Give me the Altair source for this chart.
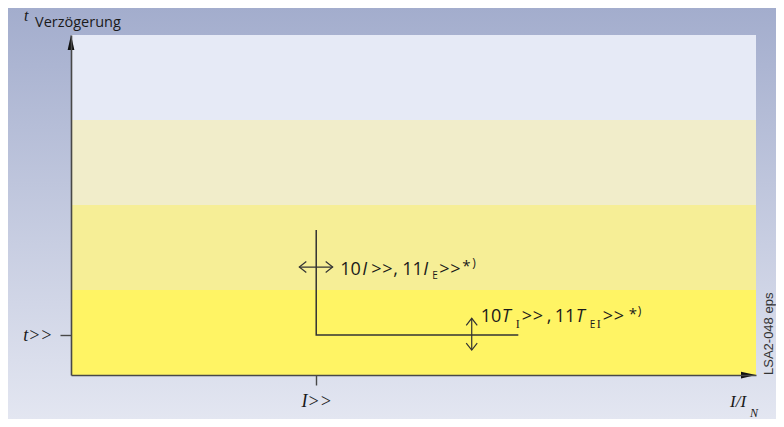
import altair as alt
import pandas as pd

# ---------------- data ----------------
X_MAX = 100
Y_MAX = 4

BAND_LOWER = [0, 1, 2, 3]
BAND_UPPER = [1, 2, 3, 4]
BAND_COLORS = ["#fff464", "#f6ee96", "#f1edca", "#e6eaf6"]

STEP_X = [35.8, 35.8, 65.3]
STEP_Y = [1.706, 0.47, 0.47]

X_TICKS = [35.8]
X_TICK_LABELS = ["I>>"]
Y_TICKS = [0.47]
Y_TICK_LABELS = ["t>>"]

# double arrows: (x1, x2, y1, y2)
ARROW_X1 = [33.33, 58.5]
ARROW_X2 = [38.2, 58.5]
ARROW_Y1 = [1.27, 0.294]
ARROW_Y2 = [1.27, 0.667]

# annotation anchors (data coords)
ANN1_ANCHOR = (35.8, 1.27)
ANN2_ANCHOR = (58.5, 0.47)

SANS = "Open Sans"
SANS2 = "Liberation Sans"
SERIF = "Liberation Serif"
MAIN = 18

# text pieces: (text, dx, dy, size, font, style)
ANN1_PIECES = [
    ("10", 24, 8, MAIN, SANS, "normal"),
    ("I", 46, 8, MAIN, SANS, "italic"),
    (">", 55, 8, MAIN, SANS, "normal"),
    (">", 66, 8, MAIN, SANS, "normal"),
    (",", 77, 8, MAIN, SANS, "normal"),
    ("11", 86, 8, MAIN, SANS, "normal"),
    ("I", 107, 8, MAIN, SANS, "italic"),
    ("E", 116, 12, 10, SANS, "normal"),
    (">", 123, 8, MAIN, SANS, "normal"),
    (">", 134, 8, MAIN, SANS, "normal"),
    ("*", 146, 4, 15, SANS, "normal"),
    (")", 156, 0, 12, SANS, "normal"),
]
ANN2_PIECES = [
    ("10", 9, -13, MAIN, SANS, "normal"),
    ("T", 30, -13, MAIN, SANS, "italic"),
    ("I", 44, -7, 12, SERIF, "normal"),
    (">", 50, -13, MAIN, SANS, "normal"),
    (">", 61, -13, MAIN, SANS, "normal"),
    (",", 75, -13, MAIN, SANS, "normal"),
    ("11", 83, -13, MAIN, SANS, "normal"),
    ("T", 104, -13, MAIN, SANS, "italic"),
    ("E", 118, -7, 10, SANS, "normal"),
    ("I", 125, -7, 12, SERIF, "normal"),
    (">", 131, -13, MAIN, SANS, "normal"),
    (">", 142, -13, MAIN, SANS, "normal"),
    ("*", 157, -16, 15, SANS, "normal"),
    (")", 166, -20, 12, SANS, "normal"),
]

# axis titles, anchored at axis ends
YTITLE_ANCHOR = (0, Y_MAX)
YTITLE_PIECES = [
    ("t", -47, -14, 16, SERIF, "italic"),
    ("Verzögerung", -36, -8, 14.5, SANS, "normal"),
]
XTITLE_ANCHOR = (X_MAX, 0)
XTITLE_PIECES = [
    ("I/I", -26, 32, 17, SERIF, "italic"),
    ("N", -6, 42, 12, SERIF, "italic"),
]
SIDE_NOTE = "LSA2-048 eps"

# ---------------- layout ----------------
W, H = 685, 340
PAD = {"left": 63, "top": 27, "right": 20, "bottom": 44}
INK = "#1a1a1a"
AXIS_INK = "#484848"

xs = alt.Scale(domain=[0, X_MAX], nice=False, zero=False)
ys = alt.Scale(domain=[0, Y_MAX], nice=False, zero=False)


def label_expr(ticks, labels):
    expr = "''"
    for t, l in zip(ticks, labels):
        expr = f"abs(datum.value - {t}) < 1e-6 ? '{l}' : ({expr})"
    return expr


AXIS_COMMON = dict(
    domainColor=AXIS_INK, domainWidth=1.6, tickColor=AXIS_INK, tickWidth=1.4,
    labelFont=SERIF, labelFontStyle="italic", labelFontSize=18, labelColor=INK,
    grid=False, title=None, zindex=1,
)
x_axis = alt.Axis(values=X_TICKS, labelExpr=label_expr(X_TICKS, X_TICK_LABELS),
                  tickSize=10, labelPadding=7, **AXIS_COMMON)
y_axis = alt.Axis(values=Y_TICKS, labelExpr=label_expr(Y_TICKS, Y_TICK_LABELS),
                  tickSize=11, labelPadding=8, **AXIS_COMMON)


def X(f):
    return alt.X(f"{f}:Q", scale=xs, axis=x_axis)


def Y(f):
    return alt.Y(f"{f}:Q", scale=ys, axis=y_axis)


# background gradient (whole chart)
bg = alt.Chart(pd.DataFrame({"k": [0]})).mark_rect(
    color=alt.Gradient(
        gradient="linear",
        stops=[alt.GradientStop(color="#a3adcd", offset=0),
               alt.GradientStop(color="#e3e6f1", offset=1)],
        x1=0, x2=0, y1=0, y2=1,
    )
).encode(
    x=alt.value(-PAD["left"]), x2=alt.value(W + PAD["right"]),
    y=alt.value(-PAD["top"]), y2=alt.value(H + PAD["bottom"]),
)

bands_df = pd.DataFrame({
    "x0": [0] * len(BAND_LOWER), "x1": [X_MAX] * len(BAND_LOWER),
    "y0": BAND_LOWER, "y1": BAND_UPPER, "c": BAND_COLORS,
})
bands = alt.Chart(bands_df).mark_rect().encode(
    x=X("x0"), x2="x1", y=Y("y0"), y2="y1",
    color=alt.Color("c:N", scale=None),
)

step_df = pd.DataFrame({"x": STEP_X, "y": STEP_Y, "i": list(range(len(STEP_X)))})
step = alt.Chart(step_df).mark_line(color="#333333", strokeWidth=1.5).encode(
    x=X("x"), y=Y("y"), order="i:Q"
)

arrows_df = pd.DataFrame({"x1": ARROW_X1, "x2": ARROW_X2, "y1": ARROW_Y1, "y2": ARROW_Y2})
shafts = alt.Chart(arrows_df).mark_rule(color="#333333", strokeWidth=1.2).encode(
    x=X("x1"), x2="x2", y=Y("y1"), y2="y2"
)

CHEV_LEFT = "M1.27,-1L0,0L1.27,1"
CHEV_RIGHT = "M-1.27,-1L0,0L-1.27,1"
CHEV_UP = "M-1,1.27L0,0L1,1.27"
CHEV_DOWN = "M-1,-1.27L0,0L1,-1.27"
chev_rows = []
for x1, x2, y1, y2 in zip(ARROW_X1, ARROW_X2, ARROW_Y1, ARROW_Y2):
    if y1 == y2:
        chev_rows.append({"x": x1, "y": y1, "s": CHEV_LEFT})
        chev_rows.append({"x": x2, "y": y2, "s": CHEV_RIGHT})
    else:
        chev_rows.append({"x": x1, "y": y1, "s": CHEV_DOWN})
        chev_rows.append({"x": x2, "y": y2, "s": CHEV_UP})
chevrons = alt.Chart(pd.DataFrame(chev_rows)).mark_point(
    filled=False, color="#333333", strokeWidth=1.2, size=121, opacity=1
).encode(x=X("x"), y=Y("y"), shape=alt.Shape("s:N", scale=None))

HEAD_UP = "M0,0L-0.45,2L0.45,2Z"
HEAD_RIGHT = "M0,0L-2,-0.45L-2,0.45Z"
heads_df = pd.DataFrame({"x": [0, X_MAX], "y": [Y_MAX, 0], "s": [HEAD_UP, HEAD_RIGHT]})
heads = alt.Chart(heads_df).mark_point(
    filled=True, color="#111111", size=225, opacity=1, strokeWidth=0
).encode(x=X("x"), y=Y("y"), shape=alt.Shape("s:N", scale=None))


def text_layers(anchor, pieces):
    out = []
    for txt, dx, dy, size, font, style in pieces:
        df = pd.DataFrame({"x": [anchor[0]], "y": [anchor[1]], "t": [txt]})
        out.append(
            alt.Chart(df).mark_text(
                align="left", baseline="alphabetic", dx=dx, dy=dy,
                fontSize=size, font=font, fontStyle=style, color=INK,
            ).encode(x=X("x"), y=Y("y"), text="t:N")
        )
    return out


texts = []
texts += text_layers(ANN1_ANCHOR, ANN1_PIECES)
texts += text_layers(ANN2_ANCHOR, ANN2_PIECES)
texts += text_layers(YTITLE_ANCHOR, YTITLE_PIECES)
texts += text_layers(XTITLE_ANCHOR, XTITLE_PIECES)

side = alt.Chart(pd.DataFrame({"x": [X_MAX], "y": [0], "t": [SIDE_NOTE]})).mark_text(
    angle=270, align="left", baseline="alphabetic", dx=0, dy=17,
    font=SANS2, fontSize=13, color="#333333",
).encode(x=X("x"), y=Y("y"), text="t:N")

chart = alt.layer(bg, bands, step, shafts, chevrons, heads, side, *texts).properties(
    width=W, height=H,
    autosize=alt.AutoSizeParams(type="none"),
    padding=PAD,
    background="#c3c9df",
).configure_view(stroke=None)

chart.save("out.html", embed_options={"renderer": "svg", "actions": False})
